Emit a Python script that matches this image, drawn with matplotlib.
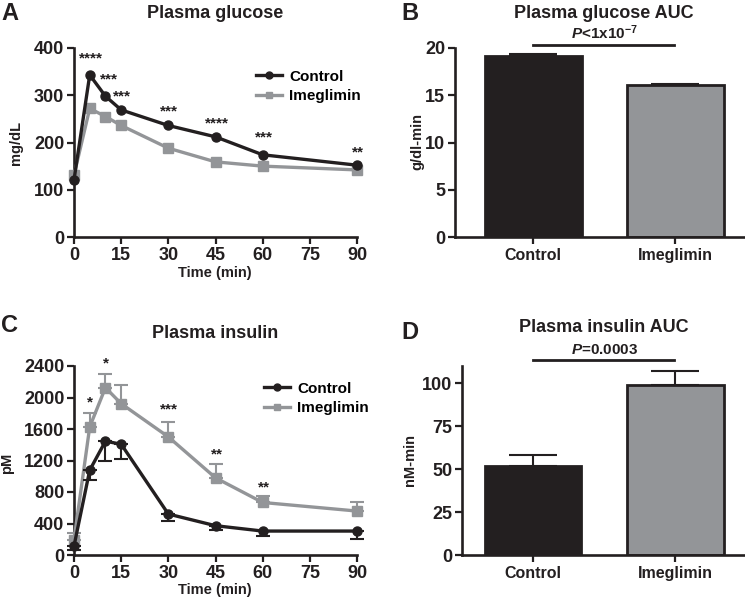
import matplotlib
matplotlib.use("Agg")
import matplotlib.pyplot as plt
from matplotlib.lines import Line2D
import numpy as np

plt.rcParams['font.family'] = ['Liberation Sans', 'DejaVu Sans']
plt.rcParams['font.weight'] = 'bold'
plt.rcParams['mathtext.fontset'] = 'custom'
plt.rcParams['mathtext.rm'] = 'Liberation Sans:bold'
plt.rcParams['mathtext.it'] = 'Liberation Sans:bold:italic'
plt.rcParams['mathtext.bf'] = 'Liberation Sans:bold'

# ---------------- data ----------------
time = [0, 5, 10, 15, 30, 45, 60, 90]
glucose_control = [121, 343, 298, 269, 236, 212, 174, 152]
glucose_imeg = [131, 272, 255, 236, 188, 159, 150, 142]
glucose_stars = ['****', '***', '***', '***', '****', '***', '**']
glucose_star_x = [5.3, 11.1, 15.3, 30.3, 45.4, 60.3, 90.3]
glucose_star_y = [377, 333, 298, 265, 240, 210, 179]

insulin_control = [114, 1077, 1445, 1407, 520, 372, 304, 304]
insulin_control_err = [50, 127, 254, 182, 89, 55, 63, 97]
insulin_imeg = [190, 1627, 2125, 1922, 1500, 980, 667, 558]
insulin_imeg_err = [85, 177, 178, 241, 194, 173, 81, 109]
insulin_stars = ['*', '*', '***', '**', '**']
insulin_star_x = [5.1, 10.1, 30.3, 45.4, 60.3]
insulin_star_y = [1943, 2429, 1850, 1276, 853]

groups = ['Control', 'Imeglimin']
glucose_auc = [19.15, 16.05]
glucose_auc_err = [0.18, 0.15]
insulin_auc = [52.0, 99.0]
insulin_auc_err = [6.0, 8.0]

BLACK = '#231f20'
GRAY = '#939598'

W, H = 745, 603
fig = plt.figure(figsize=(W / 100, H / 100), dpi=100)


def ax_at(l, r, t, b):
    return fig.add_axes([l / W, 1 - b / H, (r - l) / W, (b - t) / H])


def ftext(x, y, s, **kw):
    fig.text(x / W, 1 - y / H, s, **kw)


def style(ax):
    for s in ['top', 'right']:
        ax.spines[s].set_visible(False)
    for s in ['left', 'bottom']:
        ax.spines[s].set_linewidth(1.9)
        ax.spines[s].set_color(BLACK)
    ax.tick_params(width=1.6, length=5, direction='out', labelsize=13,
                   colors=BLACK, pad=2)
    for lab in ax.get_xticklabels() + ax.get_yticklabels():
        lab.set_fontweight('bold')


def line_panel(ax, ctrl, imeg, ctrl_err, imeg_err, ylim, yticks, stars, sx, sy, legend_anchor):
    z = np.zeros(len(time))
    if imeg_err is not None:
        ax.errorbar(time, imeg, yerr=[z, imeg_err], color=GRAY, lw=2.4,
                    marker='s', ms=6.5, capsize=5, capthick=1.5, elinewidth=1.5,
                    clip_on=False, zorder=3)
    else:
        ax.plot(time, imeg, color=GRAY, lw=2.4, marker='s', ms=6.5,
                clip_on=False, zorder=3)
    if ctrl_err is not None:
        ax.errorbar(time, ctrl, yerr=[ctrl_err, z], color=BLACK, lw=2.4,
                    marker='o', ms=6.5, capsize=5, capthick=1.5, elinewidth=1.5,
                    clip_on=False, zorder=4)
    else:
        ax.plot(time, ctrl, color=BLACK, lw=2.4, marker='o', ms=6.5,
                clip_on=False, zorder=4)
    ax.set_xlim(0, 90)
    ax.set_ylim(*ylim)
    ax.set_xticks([0, 15, 30, 45, 60, 75, 90])
    ax.set_yticks(yticks)
    style(ax)
    for s, x, y in zip(stars, sx, sy):
        ax.text(x, y, s, ha='center', va='center', fontsize=11,
                fontweight='bold', color=BLACK, clip_on=False)
    handles = [Line2D([], [], color=BLACK, lw=2.4, marker='o', ms=5),
               Line2D([], [], color=GRAY, lw=2.4, marker='s', ms=5)]
    ax.legend(handles, groups, loc='upper left', frameon=False,
              bbox_to_anchor=(legend_anchor[0] / W, 1 - legend_anchor[1] / H),
              bbox_transform=fig.transFigure, handlelength=1.7,
              handletextpad=0.5, labelspacing=0.35, borderpad=0,
              prop={'weight': 'bold', 'size': 11})


def bar_panel(ax, vals, errs, ylim, yticks, xlim, sig_y, sig_text):
    x = np.arange(len(groups))
    ax.bar(x, vals, width=0.68, color=[BLACK, GRAY], edgecolor=BLACK,
           linewidth=2, zorder=2)
    ax.errorbar(x, vals, yerr=[np.zeros(len(vals)), errs], fmt='none',
                ecolor=BLACK, elinewidth=1.5, capsize=17, capthick=1.5, zorder=1)
    ax.set_xlim(*xlim)
    ax.set_ylim(*ylim)
    ax.set_xticks(x)
    ax.set_xticklabels(groups)
    ax.set_yticks(yticks)
    style(ax)
    ax.tick_params(axis='x', labelsize=11.5, pad=3)
    ax.plot([0, 0.99], [sig_y, sig_y], color=BLACK, lw=2, clip_on=False)
    ax.annotate(sig_text, xy=(0.5, sig_y), xytext=(0, 2),
                textcoords='offset points', ha='center', va='bottom',
                fontsize=11, fontweight='bold', color=BLACK,
                annotation_clip=False)


# Panel A
axA = ax_at(74, 357, 48, 237)
line_panel(axA, glucose_control, glucose_imeg, None, None, (0, 400),
           [0, 100, 200, 300, 400], glucose_stars, glucose_star_x,
           glucose_star_y, (248, 62))

# Panel C
axC = ax_at(74, 357, 366, 555)
line_panel(axC, insulin_control, insulin_imeg, insulin_control_err,
           insulin_imeg_err, (0, 2400), [0, 400, 800, 1200, 1600, 2000, 2400],
           insulin_stars, insulin_star_x, insulin_star_y, (256, 374))

# Panel B
axB = ax_at(455, 745, 48, 237)
bar_panel(axB, glucose_auc, glucose_auc_err, (0, 20), [0, 5, 10, 15, 20],
          (-0.55, 1.49), 20.3, r'$\it{P}$<1x10$^{-7}$')

# Panel D
axD = ax_at(462, 745, 366, 555)
bar_panel(axD, insulin_auc, insulin_auc_err, (0, 110), [0, 25, 50, 75, 100],
          (-0.5, 1.49), 113.4, r'$\it{P}$=0.0003')

# Titles
tkw = dict(ha='center', va='center', fontsize=13, fontweight='bold', color=BLACK)
ftext(215, 13, 'Plasma glucose', **tkw)
ftext(604, 13, 'Plasma glucose AUC', **tkw)
ftext(215, 333, 'Plasma insulin', **tkw)
ftext(604, 328, 'Plasma insulin AUC', **tkw)

# Panel letters
lkw = dict(ha='left', va='center', fontsize=17, fontweight='bold', color=BLACK)
ftext(1, 14, 'A', **lkw)
ftext(401, 13, 'B', **lkw)
ftext(1, 326, 'C', **lkw)
ftext(401, 332, 'D', **lkw)

# Axis labels
ykw = dict(ha='center', va='center', rotation=90, fontsize=10.5,
           fontweight='bold', color=BLACK)
ftext(16, 143, 'mg/dL', **ykw)
ftext(417, 142, 'g/dl-min', **ykw)
ftext(7, 463, 'pM', **ykw)
ftext(410, 460, 'nM-min', **ykw)
xkw = dict(ha='center', va='center', fontsize=10.5, fontweight='bold', color=BLACK)
ftext(215, 273, 'Time (min)', **xkw)
ftext(215, 590, 'Time (min)', **xkw)

fig.savefig('out.png', dpi=100)
